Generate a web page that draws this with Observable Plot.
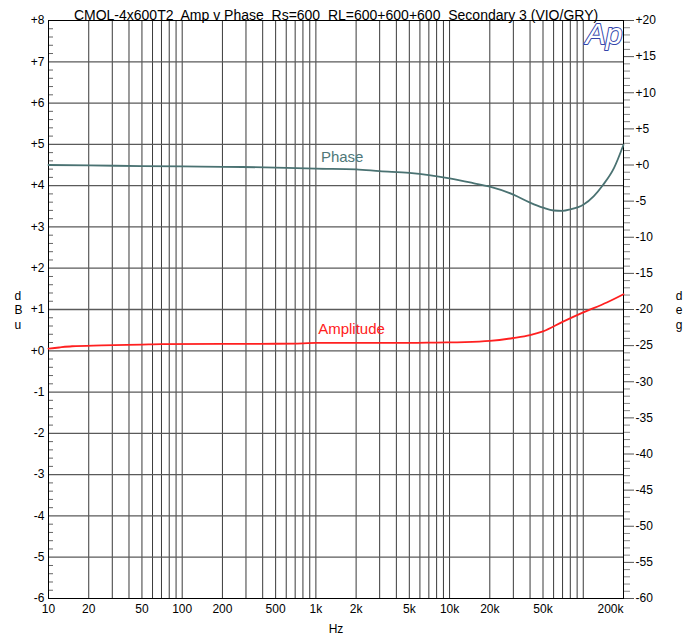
<!DOCTYPE html>
<html>
<head>
<meta charset="utf-8">
<script src="https://cdn.jsdelivr.net/npm/d3@7"></script>
<script src="https://cdn.jsdelivr.net/npm/@observablehq/plot@0.6"></script>
<style>
  html, body { margin: 0; padding: 0; background: #fff; }
  svg text { white-space: pre; }
</style>
</head>
<body>
<div id="chart"></div>
<script>
const titleText = "CMOL-4x600T2  Amp v Phase  Rs=600  RL=600+600+600  Secondary 3 (VIO/GRY)";

// Amplitude (dBu, left axis)
const ampFreq = [10, 12, 15, 25, 50, 70, 200, 500, 800, 1000, 2000, 5000, 8000, 13000, 20000, 30000, 40000, 50000, 70000, 100000, 150000, 200000];
const ampDbu  = [0.05, 0.08, 0.11, 0.13, 0.15, 0.16, 0.165, 0.17, 0.18, 0.19, 0.19, 0.19, 0.2, 0.21, 0.24, 0.31, 0.38, 0.47, 0.7, 0.93, 1.17, 1.37];

// Phase (deg, right axis)
const phFreq = [10, 20, 50, 100, 200, 500, 1000, 2000, 3000, 5000, 7000, 10000, 15000, 20000, 30000, 40000, 50000, 60000, 70000, 80000, 100000, 120000, 140000, 170000, 200000];
const phDeg  = [0.0, -0.05, -0.15, -0.2, -0.25, -0.35, -0.5, -0.6, -0.85, -1.1, -1.4, -1.85, -2.5, -3.0, -4.1, -5.2, -5.9, -6.3, -6.35, -6.15, -5.5, -4.3, -2.8, -0.4, 2.8];

// Axis ticks / grid
const xGrid = [20,30,40,50,60,70,80,90,100,200,300,400,500,600,700,800,900,1000,2000,3000,4000,5000,6000,7000,8000,9000,10000,20000,30000,40000,50000,60000,70000,80000,90000,100000];
const xLabels = [10,20,50,100,200,500,1000,2000,5000,10000,20000,50000];
const xLastLabel = 200000;
const yLeftTicks = [-6,-5,-4,-3,-2,-1,0,1,2,3,4,5,6,7,8];
const yGridLines = [-5,-4,-3,-2,-1,0,1,2,3,4,5,6,7];
const yLeftMinor = d3.range(-6, 8.001, 0.2).map(v => Math.round(v*10)/10).filter(v => Math.abs(v - Math.round(v)) > 1e-6);
const degMajor = [-60,-55,-50,-45,-40,-35,-30,-25,-20,-15,-10,-5,0,5,10,15,20];
const degMinor = d3.range(-60, 21, 1).filter(d => d % 5 !== 0);

// left scale: -6..8 dBu ; right scale: -60..20 deg
const degToDbu = d => 4.5 + d * 14 / 80;
const dbuToDeg = v => Math.round((v - 4.5) * 80 / 14);

const ampData = ampFreq.map((f, i) => ({f, v: ampDbu[i]}));
const phData = phFreq.map((f, i) => ({f, v: degToDbu(phDeg[i])}));

const sign = n => (n >= 0 ? "+" : "") + n;
const fmtHz = f => f >= 1000 ? (f / 1000) + "k" : String(f);

const font = "'Liberation Sans', Arial, sans-serif";

const chart = Plot.plot({
  width: 687,
  height: 642,
  marginLeft: 48,
  marginRight: 64,
  marginTop: 20,
  marginBottom: 44,
  style: {fontFamily: font, fontSize: "12px", background: "#fff", color: "#000"},
  x: {type: "log", domain: [10, 200000], axis: null},
  y: {domain: [-6, 8]},
  marks: [
    Plot.ruleX(xGrid, {stroke: "#3a3a3a", strokeWidth: 1}),
    Plot.ruleY(yGridLines, {stroke: "#5a5a5a", strokeWidth: 1.3}),
    Plot.axisY(yLeftMinor, {anchor: "left", tickSize: 5, dx: 5, fill: "none", stroke: "#666", label: null}),
    Plot.axisY(yLeftTicks, {anchor: "left", tickSize: 0, tickPadding: 4, tickFormat: sign, label: null, fontSize: 12}),
    Plot.axisY(degMinor.map(degToDbu), {anchor: "right", tickSize: 6, fill: "none", stroke: "#888", label: null}),
    Plot.axisY(degMajor.map(degToDbu), {anchor: "right", tickSize: 10, tickPadding: 2, stroke: "#555", tickFormat: v => sign(dbuToDeg(v)), label: null, fontSize: 12}),
    Plot.text(xLabels, {x: d => d, frameAnchor: "bottom", dy: 14, text: d => fmtHz(d), fontSize: 12}),
    Plot.text([xLastLabel], {x: d => d, frameAnchor: "bottom", dy: 14, textAnchor: "end", text: d => fmtHz(d), fontSize: 12}),
    Plot.frame({stroke: "#000", strokeWidth: 1}),
    Plot.line(phData, {x: "f", y: "v", stroke: "#4a7272", strokeWidth: 1.8, curve: "monotone-x"}),
    Plot.line(ampData, {x: "f", y: "v", stroke: "#ff2020", strokeWidth: 1.8, curve: "monotone-x"}),
    Plot.text(["Phase"], {x: 1090, y: 4.68, text: d => d, textAnchor: "start", fill: "#4f7878", fontSize: 15}),
    Plot.text(["Amplitude"], {x: 1040, y: 0.53, text: d => d, textAnchor: "start", fill: "#ff2020", fontSize: 15}),
    Plot.text([titleText], {frameAnchor: "top", dy: -1, lineAnchor: "bottom", text: d => d, fontSize: 14}),
    Plot.text(["Hz"], {frameAnchor: "bottom", dy: 34, text: d => d, fontSize: 12}),
    Plot.text(["d\nB\nu"], {frameAnchor: "left", dx: -34, text: d => d, lineHeight: 1.2, fontSize: 12}),
    Plot.text(["d\ne\ng"], {frameAnchor: "right", dx: 59, text: d => d, lineHeight: 1.2, fontSize: 12}),
    Plot.text(["Ap"], {frameAnchor: "top-right", dx: -1, dy: 2, lineAnchor: "top", textAnchor: "end", text: d => d, fontSize: 30, fontStyle: "italic", fill: "#fff", stroke: "#3344aa", strokeWidth: 2})
  ]
});
document.getElementById("chart").appendChild(chart);
</script>
</body>
</html>
